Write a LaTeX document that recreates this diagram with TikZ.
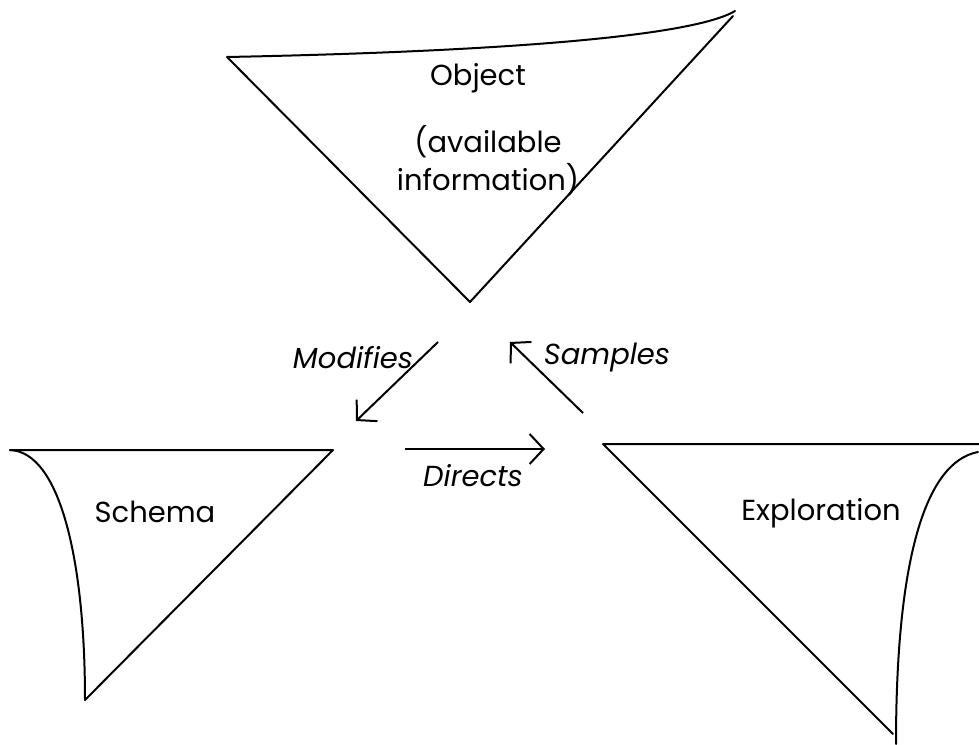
\documentclass[tikz,border=0pt]{standalone}
\usepackage{fontspec}
\setmainfont{Poppins}
\usetikzlibrary{arrows.meta}
\tikzset{
  edge/.style={line width=2pt, line cap=round, line join=round},
  conn/.style={line width=2pt, -{Straight Barb[length=14pt,width=30pt,line width=2pt]}},
  lbl/.style={font=\fontsize{29}{38}\selectfont, inner sep=0pt},
  ilbl/.style={font=\fontsize{29}{38}\selectfont\itshape, inner sep=0pt}
}
\begin{document}
\begin{tikzpicture}[x=1pt,y=-1pt]
\useasboundingbox (0,0) rectangle (979,744);
% Object triangle
\coordinate (oL) at (227,57);
\coordinate (oR) at (735,11);
\coordinate (oA) at (470,302);
\draw[edge] (oL) .. controls (480,52) and (690,38) .. (oR);
\draw[edge] (733,16) -- (oA) -- (oL);
\node[lbl] (obj) at (478,78) {Object};
\node[lbl, align=center] (avail) at (488,161) {(available\\information)};
% Schema triangle
\coordinate (sL) at (10,450);
\coordinate (sR) at (333,450);
\coordinate (sA) at (85,700);
\draw[edge] (sL) -- (sR) -- (sA);
\draw[edge] (sL) .. controls (60,452) and (85,560) .. (sA);
\node[lbl] (schema) at (155,512) {Schema};
% Exploration triangle
\coordinate (eL) at (603,444);
\coordinate (eR) at (979,444);
\coordinate (eA) at (893,734);
\coordinate (eB) at (896,744);
\draw[edge] (eR) -- (eL) -- (eA);
\draw[edge] (eB) .. controls (896,560) and (925,462) .. (978,452);
\node[lbl] (explo) at (821,513) {Exploration};
% arrows
\coordinate (m1) at (438,342);
\coordinate (m2) at (356,421);
\draw[conn] (m1) -- (m2);
\coordinate (s1) at (583,413);
\coordinate (s2) at (510,342);
\draw[conn] (s1) -- (s2);
\coordinate (d1) at (405,449);
\coordinate (d2) at (545,449);
\draw[conn] (d1) -- (d2);
\node[ilbl] (mod) at (353,358) {Modifies};
\node[ilbl] (samp) at (607,358) {Samples};
\node[ilbl] (dir) at (473,476) {Directs};
\end{tikzpicture}
\end{document}
